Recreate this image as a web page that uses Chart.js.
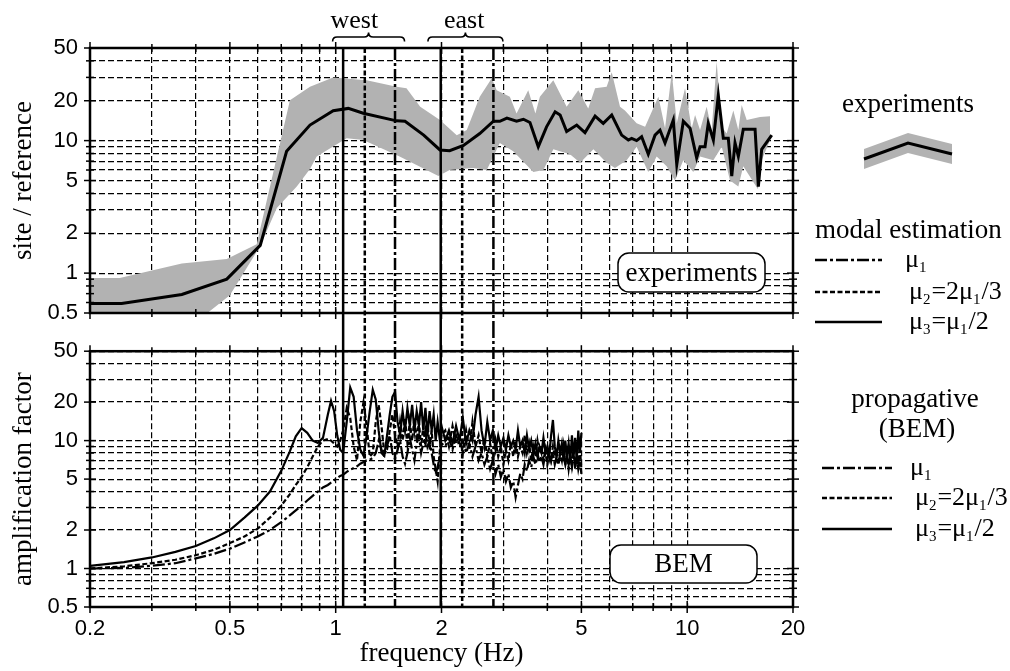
<!DOCTYPE html>
<html>
<head>
<meta charset="utf-8">
<script src="https://cdn.jsdelivr.net/npm/chart.js@4.4.1/dist/chart.umd.min.js"></script>
<style>
  html, body { margin: 0; padding: 0; background: #fff; }
  #wrap { position: relative; width: 1010px; height: 671px; overflow: hidden; }
  #wrap canvas { position: absolute; left: 0; }
  #cTop { top: 0; }
  #cBot { top: 326px; }
</style>
</head>
<body>
<div id="wrap">
  <canvas id="cTop" width="1010" height="340"></canvas>
  <canvas id="cBot" width="1010" height="345"></canvas>
</div>
<script>
// ---- axes ----
const xGrid = [0.2, 0.3, 0.4, 0.5, 0.6, 0.7, 0.8, 0.9, 1, 2, 3, 4, 5, 6, 7, 8, 9, 10, 20];
const yGrid = [0.5, 0.6, 0.7, 0.8, 0.9, 1, 2, 3, 4, 5, 6, 7, 8, 9, 10, 20, 30, 40, 50];
const xLabelVals = [0.2, 0.5, 1, 2, 5, 10, 20];
const yLabelVals = [0.5, 1, 2, 5, 10, 20, 50];

// ---- modal frequencies (mu1, mu2, mu3) ----
const westModes = [1.475, 1.21, 1.05];
const eastModes = [2.81, 2.29, 1.99];
const regionNames = ['west', 'east'];
const regionLabelFreq = [1.13, 2.32];
const regionBrace = [[0.98, 1.57], [1.83, 2.99]];

// ---- experiments (site / reference) ----
const expFreq = [0.2, 0.246, 0.365, 0.49, 0.61, 0.725, 0.845, 0.984, 1.086, 1.198, 1.49, 1.575, 1.78, 1.98, 2.11, 2.31, 2.57, 2.81, 2.93, 3.07, 3.27, 3.42, 3.57, 3.77, 3.98, 4.21, 4.35, 4.54, 4.85, 5.12, 5.47, 5.77, 6.10, 6.51, 6.80, 6.95, 7.18, 7.42, 7.75, 8.10, 8.37, 8.65, 9.13, 9.34, 9.75, 10.19, 10.64, 10.88, 11.24, 11.48, 11.87, 12.26, 12.67, 13.09, 13.39, 13.68, 13.98, 14.44, 15.60, 15.94, 16.29, 17.40];
const expMean = [0.59, 0.59, 0.69, 0.9, 1.62, 8.3, 13.1, 16.8, 17.5, 16.1, 14.1, 14.0, 11, 8.5, 8.4, 9.2, 11.3, 14.0, 14, 14.8, 14, 14.5, 13.7, 9.0, 12.7, 16.5, 15.6, 11.7, 13.1, 11.5, 15.3, 13.5, 15.6, 11.0, 10.1, 10.4, 10.0, 10.7, 7.9, 11.0, 12.0, 9.6, 14.3, 6.6, 14.0, 12.4, 7.4, 9.0, 9.0, 13.5, 10.1, 22.0, 10.4, 10.4, 5.4, 9.6, 7.6, 12.2, 12.2, 4.5, 8.6, 11.0];
const expUpperFreq = [0.2, 0.243, 0.365, 0.49, 0.596, 0.741, 0.845, 0.983, 1.225, 1.49, 1.59, 1.74, 1.98, 2.21, 2.36, 2.57, 2.78, 2.87, 3.13, 3.27, 3.53, 3.70, 3.81, 4.16, 4.54, 4.90, 5.23, 5.47, 5.90, 6.10, 6.44, 6.65, 7.18, 7.59, 8.28, 8.65, 9.04, 9.34, 9.86, 10.30, 10.53, 10.88, 11.36, 11.74, 12.13, 12.54, 12.95, 13.53, 13.98, 14.29, 14.77, 16.11, 17.21];
const expUpper = [0.92, 0.92, 1.18, 1.28, 1.65, 20.2, 25.5, 30, 28.6, 25.5, 24.8, 18, 14.3, 11.0, 12.0, 21.4, 29.5, 24.0, 21.4, 16, 24, 16, 21.4, 28.6, 18, 24, 17.5, 24.8, 25.5, 32.8, 18, 16.9, 13.5, 12.7, 21.4, 12.4, 32.8, 13.5, 24.8, 12.4, 15.6, 12, 18, 12, 39.4, 12.7, 11.3, 16.9, 12, 18.6, 14.3, 15.1, 15.3];
const expLowerFreq = [0.2, 0.419, 0.5, 0.61, 0.68, 0.775, 0.845, 0.883, 1.075, 1.198, 1.52, 1.96, 2.11, 2.46, 2.69, 2.93, 3.20, 3.65, 3.90, 4.16, 4.64, 4.96, 5.41, 5.90, 6.23, 6.73, 7.18, 7.75, 8.19, 8.74, 9.23, 9.75, 10.41, 10.88, 11.87, 12.54, 13.24, 13.98, 14.44, 15.9, 16.29, 17.21];
const expLower = [0.45, 0.47, 0.68, 1.6, 3.1, 4.5, 6.1, 7.6, 10.4, 10.1, 7.6, 5.4, 6.0, 6.2, 6.0, 9.6, 8.3, 5.8, 6.0, 8.6, 7.9, 6.8, 8.6, 6.8, 6.2, 7.1, 9.0, 5.8, 7.6, 6.4, 5.0, 7.1, 5.8, 7.6, 7.1, 9.0, 5.0, 4.5, 6.4, 4.3, 7.1, 10.1];

// ---- BEM amplification factor ----
const bemFreq = [
  0.2, 0.25, 0.3, 0.35, 0.4, 0.45, 0.5, 0.55, 0.6, 0.65, 0.7, 0.74, 0.77, 0.8, 0.83, 0.86, 0.89, 0.92, 0.95, 0.97, 0.99, 1.01, 1.03,
  1.05, 1.075, 1.1, 1.125, 1.15, 1.175, 1.2, 1.225, 1.25, 1.275, 1.3, 1.325, 1.35, 1.375, 1.4, 1.425, 1.45, 1.475, 1.5, 1.525, 1.55, 1.575, 1.6, 1.625, 1.65, 1.675, 1.7, 1.725, 1.75, 1.775, 1.8, 1.825, 1.85, 1.875, 1.9, 1.925, 1.95, 1.975, 2.0,
  2.05, 2.1, 2.15, 2.2, 2.25, 2.3, 2.35, 2.4, 2.45, 2.5, 2.55, 2.6, 2.65, 2.7, 2.75, 2.8, 2.85, 2.9, 2.95, 3.0, 3.05, 3.1, 3.15, 3.2, 3.25, 3.3, 3.35, 3.4, 3.45, 3.5, 3.55, 3.6, 3.65, 3.7, 3.75, 3.8, 3.85, 3.9, 3.95, 4.0, 4.05, 4.1, 4.15, 4.2, 4.25, 4.3, 4.35, 4.4, 4.45, 4.5, 4.55, 4.6, 4.65, 4.7, 4.75, 4.8, 4.85, 4.9, 4.95, 5.0];
const bemMu1 = [
  1.0, 1.01, 1.05, 1.1, 1.2, 1.3, 1.43, 1.6, 1.78, 2.0, 2.3, 2.6, 2.85, 3.1, 3.4, 3.7, 4.0, 4.3, 4.5, 4.7, 4.9, 5.1, 5.3,
  5.4, 5.7, 5.9, 6.1, 6.3, 6.6, 6.8, 7.0, 7.1, 7.3, 8, 10, 8.5, 7.5, 9, 11, 8, 7.2, 8.5, 10, 7.5, 6.6, 8, 10.5, 8.5, 7, 9.5, 11, 8, 9.5, 12, 9, 10, 8, 6.5, 5.5, 6.2, 7.5, 9.5,
  9, 10.5, 8.5, 11, 9, 10, 8, 9.5, 7.5, 9, 7, 8, 6.5, 7.5, 6, 7, 5.5, 6.5, 5.2, 6, 4.8, 5.5, 4.3, 4.8, 3.6, 4.5, 5.5, 5, 6.5, 5.8, 7, 6.2, 7.5, 6.5, 8, 6.8, 7.5, 6.5, 8, 7, 8.5, 7, 8, 6.5, 7.5, 6.5, 8, 7, 7.5, 6.5, 7.8, 6.5, 7.5, 6.2, 7.5, 6.5, 7.5, 6, 7, 5.5];
const bemMu2 = [
  1.0, 1.04, 1.1, 1.17, 1.27, 1.4, 1.58, 1.78, 2.05, 2.5, 3.1, 3.8, 4.5, 5.2, 6.2, 7.5, 9.0, 10, 10.3, 10, 9.5, 9.0, 10,
  12, 18, 15, 9, 7, 14, 20, 13, 7.5, 8, 14, 19, 13, 8, 8.5, 12, 16, 11, 9, 14, 10, 15, 9.5, 14, 10, 15, 10, 14, 9, 13, 9, 14, 8.5, 12, 7.5, 6, 4.8, 8, 11,
  12, 9, 13, 9.5, 11, 8, 12, 8.5, 14, 9, 11, 8, 10.5, 7.5, 9.5, 7, 10, 7.5, 9, 6.5, 8.5, 7, 9.5, 7.5, 10, 7.5, 9, 8, 11, 8, 9.5, 7, 9, 7.5, 10, 8, 9, 7, 8.5, 6.5, 8, 7, 9, 7.5, 8.5, 6.5, 8, 7, 9, 6.5, 8, 6, 7.5, 6.5, 8.5, 6, 7.5, 6.5, 9, 6];
const bemMu3 = [
  1.05, 1.12, 1.22, 1.35, 1.5, 1.72, 2.0, 2.5, 3.1, 4.0, 5.8, 8.2, 10.8, 12.5, 11.5, 10, 9.6, 10.5, 16, 20.5, 17, 11, 8.5,
  8.0, 14, 26, 22, 12, 8.5, 7.6, 11, 17, 25, 21, 12, 8, 7.6, 11, 16, 22, 24, 14, 11, 17, 12, 18, 13, 19, 12, 17, 13, 20, 12, 18, 11, 17, 12, 16, 10, 14, 10.5, 13,
  10, 12, 9.5, 13, 10, 15, 9.5, 12, 10, 16, 22, 12, 9, 14, 10, 12, 8.5, 11, 9, 10.5, 8.5, 11, 9, 10, 8.5, 12, 9, 10, 8, 11, 8.5, 10, 8, 9.5, 7.5, 9, 8, 10.5, 8, 9, 7.5, 11, 14.5, 9, 7.5, 10, 8, 9.5, 7, 10, 7.5, 9.5, 7, 11, 7.5, 10.5, 7, 12, 8, 11.5];

// ---- legend texts ----
const muLabels = [
  [['μ', 0], ['1', 1]],
  [['μ', 0], ['2', 1], ['=2μ', 0], ['1', 1], ['/3', 0]],
  [['μ', 0], ['3', 1], ['=μ', 0], ['1', 1], ['/2', 0]]
];
const muDash = [[12, 3, 3, 3], [5, 2.5], []];

const SERIF = '"Liberation Serif", "Times New Roman", serif';
const SANS = '"Liberation Sans", Arial, sans-serif';

const pts = (fs, vs) => fs.map((f, i) => ({ x: f, y: vs[i] }));

function richText(ctx, parts, x, y, size) {
  let cx = x;
  for (const [t, sub] of parts) {
    ctx.font = (sub ? Math.round(size * 0.56) : size) + 'px ' + SERIF;
    ctx.fillText(t, cx, sub ? y + size * 0.2 : y);
    cx += ctx.measureText(t).width + (sub ? 1 : 0);
  }
}

function seg(ctx, x1, y1, x2, y2) {
  ctx.beginPath(); ctx.moveTo(x1, y1); ctx.lineTo(x2, y2); ctx.stroke();
}

function roundBox(ctx, x, y, w, h, r, label) {
  ctx.beginPath();
  ctx.moveTo(x + r, y);
  ctx.arcTo(x + w, y, x + w, y + h, r);
  ctx.arcTo(x + w, y + h, x, y + h, r);
  ctx.arcTo(x, y + h, x, y, r);
  ctx.arcTo(x, y, x + w, y, r);
  ctx.closePath();
  ctx.fillStyle = '#fff'; ctx.fill();
  ctx.lineWidth = 1.5; ctx.strokeStyle = '#000'; ctx.stroke();
  ctx.fillStyle = '#000';
  ctx.font = '27px ' + SERIF;
  ctx.textAlign = 'center'; ctx.textBaseline = 'middle';
  ctx.fillText(label, x + w / 2, y + h / 2 + 1);
}

function brace(ctx, x1, x2, y, r) {
  const xm = (x1 + x2) / 2;
  ctx.beginPath();
  ctx.moveTo(x1, y + r);
  ctx.quadraticCurveTo(x1, y, x1 + r, y);
  ctx.lineTo(xm - r, y);
  ctx.quadraticCurveTo(xm, y, xm, y - r);
  ctx.quadraticCurveTo(xm, y, xm + r, y);
  ctx.lineTo(x2 - r, y);
  ctx.quadraticCurveTo(x2, y, x2, y + r);
  ctx.stroke();
}

function legendRows(ctx, rowsY, x1, x2, textX) {
  rowsY.forEach((ly, i) => {
    ctx.setLineDash(muDash[i]);
    ctx.lineWidth = 2.5;
    seg(ctx, x1, ly, x2, ly);
    ctx.setLineDash([]);
    ctx.textAlign = 'left'; ctx.textBaseline = 'alphabetic';
    richText(ctx, muLabels[i], textX[i], ly + 7, 26);
  });
}

const deco = {
  id: 'deco',
  afterDatasetsDraw(chart, args, o) {
    const { ctx, chartArea: a, scales: { x, y } } = chart;
    ctx.save();
    ctx.strokeStyle = '#000'; ctx.fillStyle = '#000';
    // vertical modal lines
    const y0 = o.panel === 'top' ? a.top : 0;
    const y1 = o.panel === 'top' ? a.bottom + 13 : a.bottom;
    [westModes, eastModes].forEach(modes => modes.forEach((f, i) => {
      const px = x.getPixelForValue(f);
      ctx.setLineDash(muDash[i]);
      ctx.lineWidth = 2.5;
      seg(ctx, px, y0, px, y1);
    }));
    ctx.setLineDash([]);
    // frame
    ctx.lineWidth = 2.5;
    ctx.strokeRect(a.left, a.top, a.right - a.left, a.bottom - a.top);
    // tick marks on all four sides
    ctx.lineWidth = 1.5;
    xGrid.forEach(v => {
      const px = x.getPixelForValue(v);
      const L = xLabelVals.includes(v) ? 6 : 4;
      seg(ctx, px, a.top - L, px, a.top + L);
      seg(ctx, px, a.bottom - L, px, a.bottom + L);
    });
    yGrid.forEach(v => {
      const py = y.getPixelForValue(v);
      const L = yLabelVals.includes(v) ? 6 : 4;
      seg(ctx, a.left - L, py, a.left + L, py);
      seg(ctx, a.right - L, py, a.right + L, py);
    });
    // panel label box
    roundBox(ctx, a.right - o.boxRight - 147, a.bottom - o.boxBottom - o.boxH, 147, o.boxH, 11, o.box);

    ctx.translate(0, -o.top);
    ctx.fillStyle = '#000'; ctx.strokeStyle = '#000';
    if (o.panel === 'top') {
      // braces and region names
      ctx.lineWidth = 1.6;
      regionBrace.forEach(([f1, f2], i) => {
        brace(ctx, x.getPixelForValue(f1), x.getPixelForValue(f2), 37, 4.5);
        ctx.font = '26px ' + SERIF;
        ctx.textAlign = 'center'; ctx.textBaseline = 'alphabetic';
        ctx.fillText(regionNames[i], x.getPixelForValue(regionLabelFreq[i]), 28);
      });
      // experiments legend
      ctx.font = '27px ' + SERIF;
      ctx.textAlign = 'center';
      ctx.fillText('experiments', 908, 112);
      ctx.fillStyle = '#b2b2b2';
      ctx.beginPath();
      ctx.moveTo(864, 149); ctx.lineTo(908, 133); ctx.lineTo(952, 144);
      ctx.lineTo(952, 164); ctx.lineTo(908, 153); ctx.lineTo(864, 169);
      ctx.closePath(); ctx.fill();
      ctx.lineWidth = 3; ctx.lineJoin = 'miter';
      ctx.beginPath(); ctx.moveTo(864, 159); ctx.lineTo(908, 143); ctx.lineTo(952, 154); ctx.stroke();
      ctx.fillStyle = '#000';
      ctx.font = '27px ' + SERIF;
      ctx.textAlign = 'left';
      ctx.fillText('modal estimation', 815, 238);
      legendRows(ctx, [260, 292, 322], 815, 882, [905, 909, 909]);
    } else {
      ctx.font = '27px ' + SERIF;
      ctx.textAlign = 'center'; ctx.textBaseline = 'alphabetic';
      ctx.fillText('propagative', 915, 407);
      ctx.fillText('(BEM)', 917, 437);
      legendRows(ctx, [468, 498, 529], 822, 892, [910, 915, 915]);
    }
    ctx.restore();
  }
};

function xScale(showLabels, height, title) {
  return {
    type: 'logarithmic', min: 0.2, max: 20,
    afterBuildTicks: s => { s.ticks = xGrid.map(v => ({ value: v })); },
    afterFit: s => { s.height = height; },
    grid: { color: '#000', lineWidth: 1.2, drawTicks: false },
    border: { display: false, dash: [6, 3] },
    ticks: {
      display: showLabels, autoSkip: false, maxRotation: 0, padding: 9, color: '#000',
      font: { family: SANS, size: 22 },
      callback: v => xLabelVals.includes(v) ? String(v) : ''
    },
    title: title
      ? { display: true, text: title, color: '#000', font: { family: SERIF, size: 27 }, padding: { top: 0, bottom: 1 } }
      : { display: false }
  };
}

function yScale(title) {
  return {
    type: 'logarithmic', min: 0.5, max: 50,
    afterBuildTicks: s => { s.ticks = yGrid.map(v => ({ value: v })); },
    afterFit: s => { s.width = 90; },
    grid: { color: '#000', lineWidth: 1.2, drawTicks: false },
    border: { display: false, dash: [6, 3] },
    ticks: {
      autoSkip: false, padding: 12, color: '#000',
      font: { family: SANS, size: 22 },
      callback: v => yLabelVals.includes(v) ? String(v) : ''
    },
    title: { display: true, text: title, color: '#000', font: { family: SERIF, size: 27 }, padding: { top: 8, bottom: 0 } }
  };
}

const common = {
  responsive: false, animation: false, devicePixelRatio: 1, events: [],
  elements: { point: { radius: 0 }, line: { tension: 0 } }
};

// datasets are painted last-to-first, so the mean line goes first to sit on top of the band
new Chart(document.getElementById('cTop'), {
  type: 'line',
  data: {
    datasets: [
      { data: pts(expFreq, expMean), borderColor: '#000', borderWidth: 3, fill: false },
      { data: pts(expUpperFreq, expUpper), borderColor: 'rgba(0,0,0,0)', borderWidth: 1, fill: '+1', backgroundColor: '#b2b2b2' },
      { data: pts(expLowerFreq, expLower), borderColor: 'rgba(0,0,0,0)', borderWidth: 1, fill: false }
    ]
  },
  options: {
    ...common,
    layout: { padding: { left: 0, right: 217, top: 48, bottom: 0 } },
    scales: { x: xScale(false, 27, null), y: yScale('site / reference') },
    plugins: {
      legend: { display: false }, tooltip: { enabled: false },
      deco: { panel: 'top', top: 0, box: 'experiments', boxRight: 28, boxBottom: 21, boxH: 39 }
    }
  },
  plugins: [deco]
});

new Chart(document.getElementById('cBot'), {
  type: 'line',
  data: {
    datasets: [
      { data: pts(bemFreq, bemMu1), borderColor: '#000', borderWidth: 2.2, borderDash: muDash[0], fill: false },
      { data: pts(bemFreq, bemMu2), borderColor: '#000', borderWidth: 2.2, borderDash: muDash[1], fill: false },
      { data: pts(bemFreq, bemMu3), borderColor: '#000', borderWidth: 2.2, fill: false }
    ]
  },
  options: {
    ...common,
    layout: { padding: { left: 0, right: 217, top: 14, bottom: 0 } },
    scales: { x: xScale(true, 64, 'frequency (Hz)'), y: yScale('amplification factor') },
    plugins: {
      legend: { display: false }, tooltip: { enabled: false },
      deco: { panel: 'bottom', top: 326, box: 'BEM', boxRight: 36, boxBottom: 24, boxH: 38 }
    }
  },
  plugins: [deco]
});
</script>
</body>
</html>
